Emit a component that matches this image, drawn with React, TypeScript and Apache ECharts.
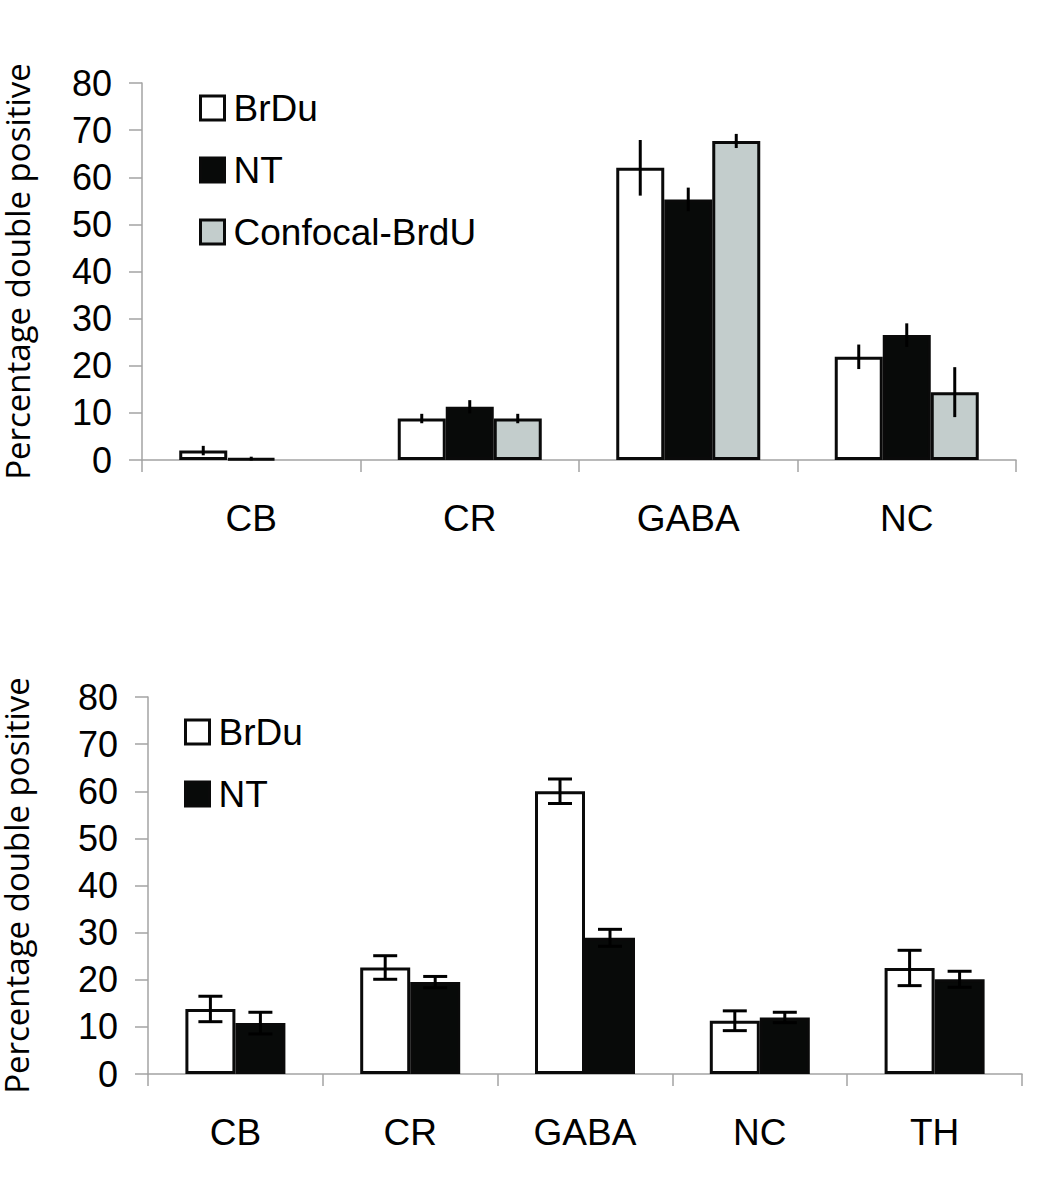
import React, { useEffect, useRef } from 'react';
import * as echarts from 'echarts';

// ---- Data ----
const topCategories = ['CB', 'CR', 'GABA', 'NC'];
const topSeriesNames = ['BrDu', 'NT', 'Confocal-BrdU'];
const topBrdu = [2.0, 8.8, 62.0, 21.9];
const topBrduErr = [1.0, 1.0, 5.9, 2.6];
const topNt = [0.3, 11.3, 55.3, 26.5];
const topNtErr = [0.4, 1.4, 2.5, 2.5];
const topConfocal: (number | null)[] = [null, 8.8, 67.7, 14.4];
const topConfocalErr: (number | null)[] = [null, 1.0, 1.5, 5.3];

const bottomCategories = ['CB', 'CR', 'GABA', 'NC', 'TH'];
const bottomSeriesNames = ['BrDu', 'NT'];
const bottomBrdu = [13.8, 22.6, 60.0, 11.3, 22.5];
const bottomBrduErr = [2.7, 2.5, 2.6, 2.1, 3.75];
const bottomNt = [10.8, 19.5, 28.9, 12.0, 20.1];
const bottomNtErr = [2.3, 1.2, 1.8, 1.1, 1.7];

const yMin = 0;
const yMax = 80;
const yInterval = 10;

const fillColors = ['#ffffff', '#080a09', '#c3cdcc'];
const edge = '#0a0a0a';
const axisGrey = '#a3a3a3';

function barSeries(name: string, values: (number | null)[], gridIdx: number, color: string, width: number) {
  return {
    type: 'bar',
    name,
    xAxisIndex: gridIdx,
    yAxisIndex: gridIdx,
    barWidth: width,
    barGap: '0%',
    data: values.map((v) => (v == null ? '-' : v)),
    itemStyle: { color, borderColor: edge, borderWidth: 3 },
    z: 2,
  };
}

function errorSeries(
  values: (number | null)[],
  errs: (number | null)[],
  gridIdx: number,
  pos: number,
  count: number,
  width: number,
  capHalf: number
) {
  const data: number[][] = [];
  values.forEach((v, i) => {
    const e = errs[i];
    if (v != null && e != null) data.push([i, v - e, v + e]);
  });
  return {
    type: 'custom',
    xAxisIndex: gridIdx,
    yAxisIndex: gridIdx,
    silent: true,
    z: 5,
    data,
    encode: { x: 0, y: [1, 2] },
    renderItem: (params: any, api: any) => {
      const idx = api.value(0);
      const lo = api.coord([idx, api.value(1)]);
      const hi = api.coord([idx, api.value(2)]);
      const x = lo[0] + (pos - (count - 1) / 2) * width;
      const st = { stroke: '#000', lineWidth: 3 };
      const children: any[] = [
        { type: 'line', shape: { x1: x, y1: lo[1], x2: x, y2: hi[1] }, style: st },
      ];
      if (capHalf > 0) {
        children.push({ type: 'line', shape: { x1: x - capHalf, y1: lo[1], x2: x + capHalf, y2: lo[1] }, style: st });
        children.push({ type: 'line', shape: { x1: x - capHalf, y1: hi[1], x2: x + capHalf, y2: hi[1] }, style: st });
      }
      return { type: 'group', children };
    },
  };
}

function xAxisCfg(cats: string[], gridIndex: number) {
  return {
    type: 'category',
    gridIndex,
    data: cats,
    axisLine: { show: true, lineStyle: { color: axisGrey, width: 1.5 } },
    axisTick: { show: true, length: 12, lineStyle: { color: axisGrey, width: 1.5 } },
    axisLabel: { color: '#000', fontSize: 37, fontFamily: 'Liberation Sans', margin: 40 },
    splitLine: { show: false },
  };
}

function yAxisCfg(gridIndex: number, nameGap: number) {
  return {
    type: 'value',
    gridIndex,
    min: yMin,
    max: yMax,
    interval: yInterval,
    name: 'Percentage double positive',
    nameLocation: 'middle',
    nameGap,
    nameTextStyle: { color: '#000', fontSize: 33, fontFamily: 'Open Sans' },
    axisLine: { show: true, lineStyle: { color: axisGrey, width: 1.5 } },
    axisTick: { show: true, length: 13, lineStyle: { color: axisGrey, width: 1.5 } },
    axisLabel: { color: '#000', fontSize: 36, fontFamily: 'Liberation Sans', margin: 30 },
    splitLine: { show: false },
  };
}

function legendCfg(names: string[], left: number, top: number) {
  return {
    orient: 'vertical',
    left,
    top,
    data: names,
    icon: 'rect',
    itemWidth: 24,
    itemHeight: 24,
    itemGap: 22,
    selectedMode: false,
    itemStyle: { borderColor: edge, borderWidth: 3 },
    formatter: '{t|{name}}',
    textStyle: {
      color: '#000',
      fontSize: 37,
      fontFamily: 'Liberation Sans',
      lineHeight: 40,
      rich: {
        t: { color: '#000', fontSize: 37, fontFamily: 'Liberation Sans', lineHeight: 40, padding: [0, 0, 0, 4] },
      },
    },
    padding: 0,
  };
}

export default function App() {
  const ref = useRef<HTMLDivElement>(null);
  useEffect(() => {
    if (!ref.current) return;
    const chart = echarts.init(ref.current, undefined, { renderer: 'svg' });
    const topW = 48;
    const botW = 50;
    const option: any = {
      animation: false,
      backgroundColor: '#ffffff',
      grid: [
        { left: 142, top: 83, width: 874, height: 377, containLabel: false, outerBoundsMode: 'none' },
        { left: 148, top: 697, width: 874, height: 377, containLabel: false, outerBoundsMode: 'none' },
      ],
      xAxis: [xAxisCfg(topCategories, 0), xAxisCfg(bottomCategories, 1)],
      yAxis: [yAxisCfg(0, 108), yAxisCfg(1, 115)],
      legend: [legendCfg(topSeriesNames, 199, 88), legendCfg(bottomSeriesNames, 184, 712)],
      series: [
        barSeries(topSeriesNames[0], topBrdu, 0, fillColors[0], topW),
        barSeries(topSeriesNames[1], topNt, 0, fillColors[1], topW),
        barSeries(topSeriesNames[2], topConfocal, 0, fillColors[2], topW),
        errorSeries(topBrdu, topBrduErr, 0, 0, 3, topW, 0),
        errorSeries(topNt, topNtErr, 0, 1, 3, topW, 0),
        errorSeries(topConfocal, topConfocalErr, 0, 2, 3, topW, 0),
        barSeries(bottomSeriesNames[0], bottomBrdu, 1, fillColors[0], botW),
        barSeries(bottomSeriesNames[1], bottomNt, 1, fillColors[1], botW),
        errorSeries(bottomBrdu, bottomBrduErr, 1, 0, 2, botW, 12),
        errorSeries(bottomNt, bottomNtErr, 1, 1, 2, botW, 12),
      ],
    };
    chart.setOption(option);
    return () => chart.dispose();
  }, []);
  return (
    <div
      ref={ref}
      style={{ position: 'absolute', left: 0, top: 0, width: 1057, height: 1184, background: '#fff' }}
    />
  );
}
